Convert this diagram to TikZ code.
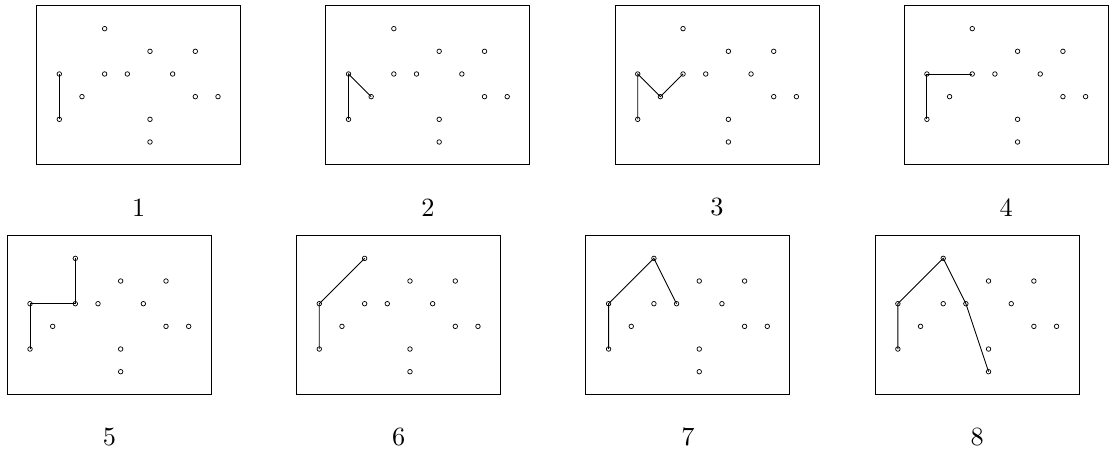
\documentclass[tikz,border=0pt]{standalone}
\newcommand\mypanel[4]{%
  \begin{scope}[shift={(#2,#3)}]
    \node[framebox] (#1box) at (3.5,1.5) {};
    \foreach \n/\px/\py in {A/0/0,B/0/2,C/1/1,D/2/2,E/2/4,F/3/2,G/4/3,H/4/0,I/4/-1,J/5/2,K/6/3,L/6/1,M/7/1}
      \node[pt] (#1\n) at (\px,\py) {};
    \node[lab] (#1lab) at (3.5,-3.88) {\scalebox{1.65}{#4}};
  \end{scope}}
\begin{document}
\begin{tikzpicture}[x=0.5cm,y=0.5cm,
  pt/.style={circle,draw,fill=white,inner sep=0pt,minimum size=0.1cm,line width=0.45pt},
  framebox/.style={rectangle,draw,line width=0.6pt,inner sep=0pt,minimum width=4.5cm,minimum height=3.5cm},
  link/.style={line width=0.55pt},
  lab/.style={inner sep=0pt}]
\useasboundingbox (0,0) rectangle (48.92,19.94);

\mypanel{p1}{2.616}{14.676}{1}
\mypanel{p2}{15.373}{14.676}{2}
\mypanel{p3}{28.130}{14.676}{3}
\mypanel{p4}{40.887}{14.676}{4}
\mypanel{p5}{1.323}{4.543}{5}
\mypanel{p6}{14.084}{4.543}{6}
\mypanel{p7}{26.845}{4.543}{7}
\mypanel{p8}{39.606}{4.543}{8}

\draw[link] (p1A.center) -- (p1B.center);
\draw[link] (p2A.center) -- (p2B.center) -- (p2C.center);
\draw[link] (p3A.center) -- (p3B.center) -- (p3C.center) -- (p3D.center);
\draw[link] (p4A.center) -- (p4B.center) -- (p4D.center);
\draw[link] (p5A.center) -- (p5B.center) -- (p5D.center) -- (p5E.center);
\draw[link] (p6A.center) -- (p6B.center) -- (p6E.center);
\draw[link] (p7A.center) -- (p7B.center) -- (p7E.center) -- (p7F.center);
\draw[link] (p8A.center) -- (p8B.center) -- (p8E.center) -- (p8F.center) -- (p8I.center);
\end{tikzpicture}
\end{document}
